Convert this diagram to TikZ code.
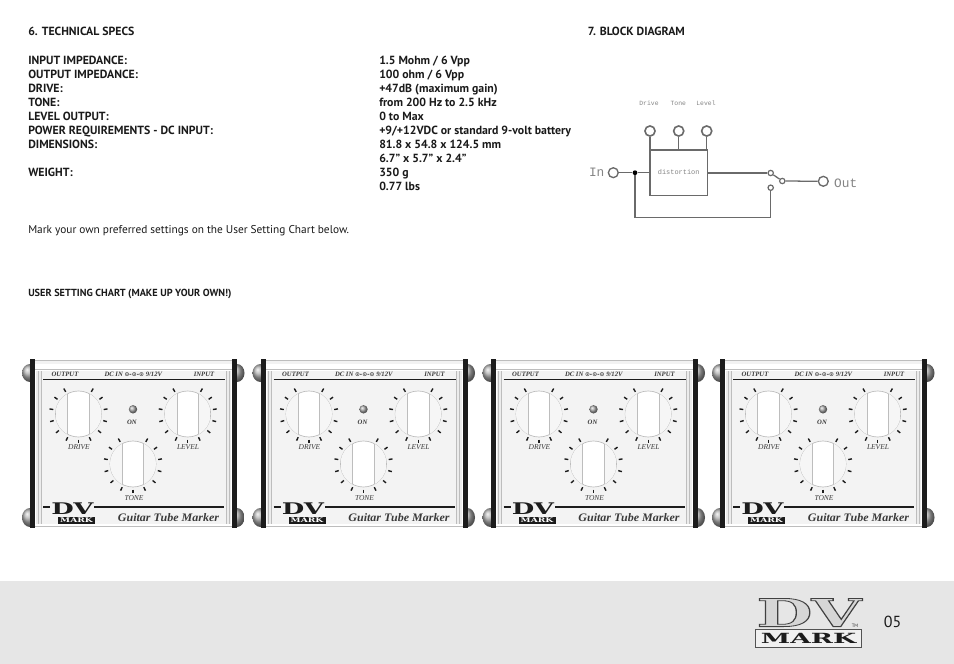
\documentclass[tikz,border=0pt]{standalone}
\usepackage{fontspec}
\setmainfont{PT Sans}
\newfontfamily\pedalfont{Liberation Serif}
\newfontfamily\logofont{DejaVu Serif}
\newfontfamily\blockfont{Liberation Mono}
\newfontfamily\symfont{DejaVu Sans}
\usetikzlibrary{shadings,calc}
\definecolor{specink}{HTML}{1A1A1A}
\definecolor{footerbg}{HTML}{E6E6E6}
\definecolor{blockline}{HTML}{6A6A6A}
\definecolor{blocktext}{HTML}{858585}
\definecolor{panel}{HTML}{F3F3F3}
\definecolor{edgegray}{HTML}{BDBDBD}
\definecolor{barblack}{HTML}{1C1C1C}
\definecolor{pedalink}{HTML}{3A3A3A}
\newcommand{\outlined}[1]{\special{pdf:code q 0.84 g 0.25 G 2 Tr 0.6 w}#1\special{pdf:code 0 Tr Q}}
\tikzset{
  spec/.style={anchor=base west,inner sep=0pt,text=specink,font=\fontsize{8.85}{10}\selectfont\bfseries},
  plain/.style={anchor=base west,inner sep=0pt,text=specink,font=\fontsize{8.5}{10}\selectfont},
  small/.style={anchor=base west,inner sep=0pt,text=specink,font=\fontsize{7.7}{8}\selectfont\bfseries},
  blockwire/.style={draw=blockline,line width=0.95pt},
  knobring/.style={circle,draw=blockline,line width=1.2pt,fill=white,minimum size=7.6pt,inner sep=0pt},
  jack/.style={circle,draw=blockline,line width=1pt,fill=white,minimum size=7.4pt,inner sep=0pt},
  contact/.style={circle,draw=blockline,line width=0.9pt,fill=white,minimum size=4pt,inner sep=0pt},
  blocklabel/.style={inner sep=0pt,text=blocktext,font=\blockfont\fontsize{4.8}{5}\selectfont},
  blockbig/.style={inner sep=0pt,text=blocktext,font=\blockfont\fontsize{9.6}{10}\selectfont},
  pedlabel/.style={inner sep=0pt,text=pedalink,font=\pedalfont\itshape\bfseries\fontsize{5}{6}\selectfont},
  pedlabelbig/.style={inner sep=0pt,text=pedalink,font=\pedalfont\itshape\fontsize{5.6}{6}\selectfont},
  tick/.style={line width=1.05pt,barblack},
  screw/.style={ball color=gray!65,draw=none},
  knobdisc/.style={circle,draw=edgegray,line width=0.5pt,fill=white,minimum size=34.5pt,inner sep=0pt},
  pics/knob/.style={code={
    \node[knobdisc] (-disc) at (0,0) {};
    \begin{scope}
      \clip (0,0) circle (23);
      \fill[white!93!gray] (-23,-23) rectangle (-10.7,23);
      \fill[white!93!gray] (10.7,-23) rectangle (23,23);
      \draw[edgegray,line width=0.5pt] (-10.7,-23) -- (-10.7,23) (10.7,-23) -- (10.7,23);
    \end{scope}
    \foreach \a in {240,215,190,165,140,115,90,65,40,15,-10,-35,-60}
      \draw[tick] (\a:25.6) -- (\a:29.4);
  }},
  pics/pedal/.style={code={
    % side screws
    \shade[screw] (30,373) ellipse [x radius=8,y radius=9];
    \shade[screw] (30,517.5) ellipse [x radius=8,y radius=9.5];
    \shade[screw] (237,373) ellipse [x radius=7.5,y radius=9];
    \shade[screw] (237,517.5) ellipse [x radius=7.5,y radius=9.5];
    % body
    \fill[white] (35,359) rectangle (232,528);
    \fill[white!90!gray] (35,361) rectangle (232,364);
    \draw[edgegray,line width=0.4pt] (35,360) -- (232,360) (35,369.5) -- (232,369.5) (35,526) -- (232,526);
    \fill[panel] (41,371) rectangle (226,524);
    \fill[white!85!gray] (36,371) rectangle (41,524);
    \fill[white!85!gray] (226,371) rectangle (231,524);
    \draw[edgegray,line width=0.4pt] (41,371) -- (41,524) (226,371) -- (226,524) (38,371) -- (38,524) (229,371) -- (229,524);
    \fill[barblack] (30,359) rectangle (35,528);
    \fill[barblack] (232,359) rectangle (237,528);
    % top
    \draw[barblack,line width=1.3pt] (43,379.4) -- (225,379.4);
    \node[pedlabel] (-out) at (65,374.2) {OUTPUT};
    \node[pedlabel] (-dc) at (133.3,374.2) {DC IN {\symfont\fontsize{4.4}{5}\selectfont ⊙-⊙-⊙} 9/12V};
    \node[pedlabel] (-inp) at (204,374.2) {INPUT};
    % controls
    \pic (-dr) at (78.5,414) {knob};
    \pic (-lv) at (187.7,414) {knob};
    \pic (-tn) at (133,464) {knob};
    \shade[ball color=gray!70] (133,409.3) circle (4.2);
    \node[pedlabel] (-on) at (132,422.7) {ON};
    \node[pedlabelbig] (-drive) at (79,447.2) {DRIVE};
    \node[pedlabelbig] (-level) at (188,447.2) {LEVEL};
    \node[pedlabelbig] (-tone) at (134,497.7) {TONE};
    % bottom
    \draw[barblack,line width=1.3pt] (43,506.8) -- (224,506.8);
    \fill[panel] (50,502) rectangle (94,512);
    \node[inner sep=0pt,text=barblack,font=\logofont\bfseries\fontsize{12}{12}\selectfont,xscale=1.62] (-dv) at (72.5,508.8) {DV};
    \fill[barblack] (58,517) rectangle (95,524);
    \node[inner sep=0pt,text=white,font=\logofont\bfseries\fontsize{4.8}{5}\selectfont,xscale=1.42] (-mk) at (76.5,520.5) {MARK};
    \node[inner sep=0pt,text=pedalink,font=\pedalfont\itshape\bfseries\fontsize{8.6}{9}\selectfont,xscale=1.05] (-gtm) at (168.5,518) {Guitar Tube Marker};
  }}
}
\begin{document}
\begin{tikzpicture}[x=0.75pt,y=-0.75pt]
\useasboundingbox (0,0) rectangle (954,664);
\fill[white] (0,0) rectangle (954,664);
\fill[footerbg] (0,581) rectangle (954,664);

% specs
\node[spec] (h6) at (28,35.5) {6. TECHNICAL SPECS};
\node[spec] (h7) at (587.5,35.5) {7. BLOCK DIAGRAM};
\node[spec] (k1) at (28,64) {INPUT IMPEDANCE:};
\node[spec] (k2) at (28,78) {OUTPUT IMPEDANCE:};
\node[spec] (k3) at (28,92) {DRIVE:};
\node[spec] (k4) at (28,106) {TONE:};
\node[spec] (k5) at (28,120) {LEVEL OUTPUT:};
\node[spec] (k6) at (28,134) {POWER REQUIREMENTS - DC INPUT:};
\node[spec] (k7) at (28,148) {DIMENSIONS:};
\node[spec] (k8) at (28,176) {WEIGHT:};
\node[spec] (v1) at (379,64) {1.5 Mohm / 6 Vpp};
\node[spec] (v2) at (379,78) {100 ohm / 6 Vpp};
\node[spec] (v3) at (379,92) {+47dB (maximum gain)};
\node[spec] (v4) at (379,106) {from 200 Hz to 2.5 kHz};
\node[spec] (v5) at (379,120) {0 to Max};
\node[spec] (v6) at (379,134) {+9/+12VDC or standard 9-volt battery};
\node[spec] (v7) at (379,148) {81.8 x 54.8 x 124.5 mm};
\node[spec] (v8) at (379,162) {6.7” x 5.7” x 2.4”};
\node[spec] (v9) at (379,176) {350 g};
\node[spec] (v10) at (379,190) {0.77 lbs};
\node[plain] (mark) at (28,233) {Mark your own preferred settings on the User Setting Chart below.};
\node[small] (chart) at (28,296) {USER SETTING CHART (MAKE UP YOUR OWN!)};

% block diagram
\node[blocklabel] (ldrive) at (649,103.3) {Drive};
\node[blocklabel] (ltone) at (678.3,103.3) {Tone};
\node[blocklabel] (llevel) at (706,103.3) {Level};
\node[knobring] (kd) at (650,131) {};
\node[knobring] (kt) at (678.7,131) {};
\node[knobring] (kl) at (706.7,131) {};
\node[draw=blockline,line width=0.95pt,minimum width=42.9pt,minimum height=34.3pt,inner sep=0pt] (dist) at (678.65,172.85) {};
\node[blocklabel,font=\blockfont\fontsize{5.2}{6}\selectfont] (ldist) at (678.7,171.7) {distortion};
\node[blockbig] (lin) at (596.7,172.3) {In};
\node[jack] (jin) at (613.3,172.7) {};
\node[circle,fill=black,minimum size=3.6pt,inner sep=0pt] (dot) at (635,172.7) {};
\node[contact] (ca) at (770.7,173) {};
\node[contact] (cb) at (770.7,187.7) {};
\node[contact] (cp) at (782.3,181) {};
\node[jack] (jout) at (823.3,181.3) {};
\node[blockbig] (lout) at (845.7,183) {Out};
\coordinate (turnl) at (635,217.3);
\coordinate (turnr) at (770.7,217.3);
\draw[blockwire] (kd) -- (kd|-dist.north);
\draw[blockwire] (kt) -- (kt|-dist.north);
\draw[blockwire] (kl) -- (kl|-dist.north);
\draw[blockwire] (jin) -- (dot);
\draw[blockwire] (dot) -- (dot-|dist.west);
\draw[blockwire] (dist.east|-ca) -- (ca);
\draw[blockwire] (ca) -- (cp);
\draw[blockwire] (cp) -- (jout);
\draw[blockwire] (dot) -- (turnl) -- (turnr) -- (cb);

% pedals
\pic (p1) at (0,0) {pedal};
\pic (p2) at (230.5,0) {pedal};
\pic (p3) at (460.5,0) {pedal};
\pic (p4) at (690,0) {pedal};

% footer logo
\node[inner sep=0pt,text=white!82!gray,font=\logofont\bfseries\fontsize{29}{29}\selectfont,xscale=1.67,yscale=1.0] (bigdv) at (809,612.5) {\outlined{DV}};
\node[inner sep=0pt,text=barblack,draw=gray!65!black,line width=0.7pt,fill=white!88!gray,minimum width=79pt,minimum height=13pt,font=\logofont\bfseries\fontsize{10.5}{11}\selectfont] (bigmark) at (808.5,638.3) {\scalebox{1.9}[1]{MARK}};
\node[inner sep=0pt,text=pedalink,font=\fontsize{3.6}{4}\selectfont] (tm) at (855,626.3) {TM};
\node[inner sep=0pt,text=specink,font=\fontsize{12}{14}\selectfont] (page) at (892.5,622) {05};
\end{tikzpicture}
\end{document}
